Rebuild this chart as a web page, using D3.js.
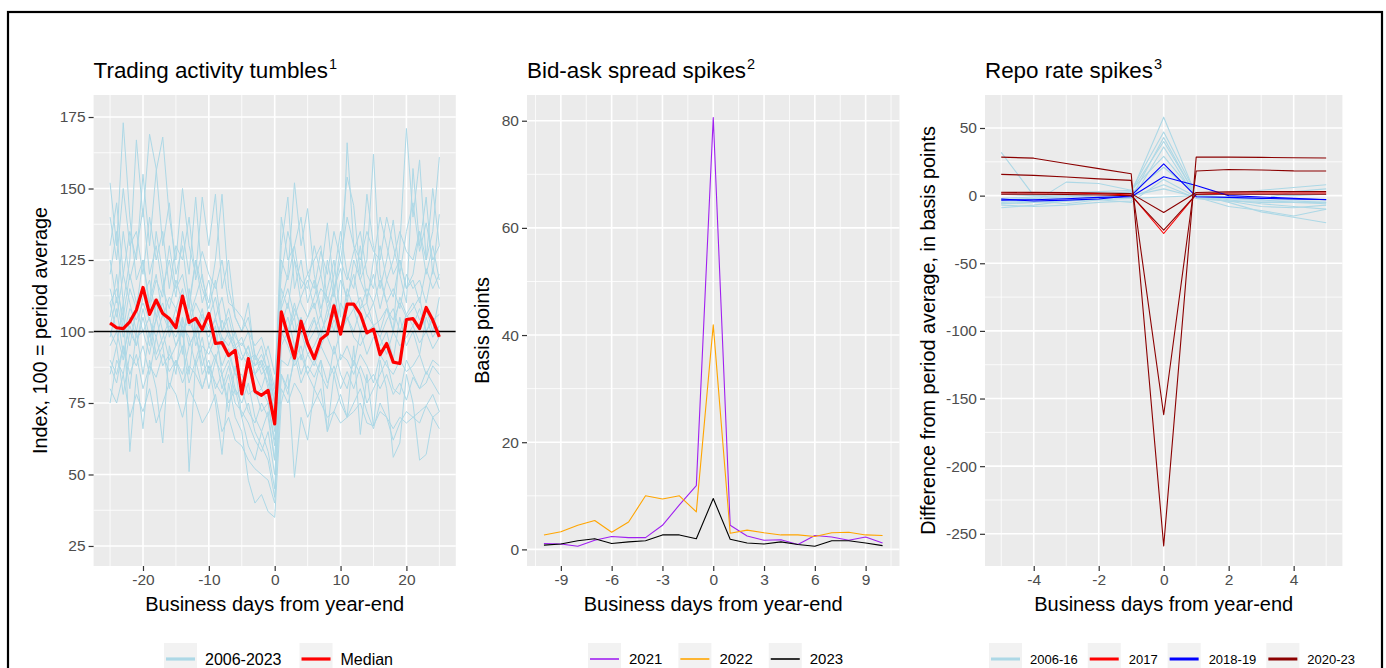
<!DOCTYPE html>
<html>
<head>
<meta charset="utf-8">
<script src="https://cdn.jsdelivr.net/npm/d3@7"></script>
<style>
body { margin: 0; background: #fff; }
svg { display: block; font-family: "Liberation Sans", Arial, sans-serif; }
</style>
</head>
<body>
<svg id="chart" width="1386" height="668"></svg>
<script>
// ---- panel 1: trading activity, index (100 = period average), days -25..25
var activityDays = d3.range(-25, 26);
var activityMedian = [
  103.0, 101.3, 101.0, 103.4, 107.5, 115.4, 106.0, 111.0, 106.3, 104.5,
  101.3, 112.4, 103.2, 104.6, 100.7, 106.3, 95.8, 96.1, 91.6, 93.4,
  78.2, 90.5, 79.1, 77.7, 79.4, 67.7,
  106.9, 98.7, 90.7, 103.6, 95.8, 90.5, 97.3, 99.1, 109.0, 99.1,
  109.6, 109.6, 106.1, 99.5, 100.8, 91.9, 95.8, 89.3, 88.8, 104.2,
  104.5, 101.0, 108.4, 104.0, 98.1
];
// one row per year 2006-2023 (read off roughly from the spaghetti)
var activityYears = [
  [152,130,173,140,118, 125,110,135,120,98, 105,92,115,100,88, 95,102,85,90,80, 75,82,70,65,72, 55, 110,120,152,130,143, 120,108,115,125,105, 166,130,118,125,162, 120,110,100,130,171, 140,160,125,135,161],
  [120,135,110,125,167, 140,169,157,130,145, 120,130,110,125,115, 108,118,100,105,95, 90,95,85,80,88, 78, 130,147,115,125,110, 118,105,125,112,130, 154,144,120,148,130, 115,125,139,120,110, 157,130,147,120,141],
  [100,95,110,58,85, 66,90,80,61,95, 85,105,51,90,80, 88,75,57,82,70, 65,48,40,43,37, 35, 75,85,49,70,62, 80,90,65,85,75, 70,95,64,85,67, 90,80,56,61,85, 75,55,57,70,66],
  [75,90,85,100,95, 105,95,110,100,90, 95,100,85,105,92, 80,90,85,72,88, 70,60,55,65,58, 45, 95,100,105,90,100, 105,95,100,110,90, 95,88,100,92,98, 95,100,90,105,95, 100,92,105,98,102],
  [130,145,120,135,125, 155,130,156,168,140, 125,150,130,120,147, 130,148,115,125,105, 100,110,90,95,85, 70, 140,125,130,115,120, 125,130,110,120,135, 120,115,130,110,125, 140,130,120,125,115, 120,135,125,150,130],
  [90,85,95,80,100, 85,100,90,95,80, 90,85,95,100,85, 90,80,85,75,80, 70,75,65,60,55, 42, 85,80,90,95,85, 90,85,80,95,85, 80,90,85,75,80, 85,90,80,78,90, 85,80,82,88,85],
  [110,115,105,120,110, 115,110,120,105,112, 108,115,102,110,105, 100,104,98,95,100, 92,88,85,90,80, 65, 105,100,110,100,105, 110,100,105,115,100, 115,108,112,105,110, 100,108,104,110,105, 108,112,100,104,106],
  [95,100,90,105,98, 100,92,105,95,102, 98,105,95,100,108, 95,90,98,92,85, 85,78,80,72,75, 60, 98,105,95,100,92, 95,100,98,92,100, 105,98,95,100,102, 98,92,100,95,98, 102,96,100,94,98],
  [80,75,85,70,78, 72,80,68,75,82, 78,70,80,75,68, 72,78,65,70,62, 60,55,52,50,48, 40, 80,75,82,78,70, 75,80,65,72,78, 70,75,80,72,66, 75,70,62,68,72, 70,68,74,78,72],
  [140,125,150,130,135, 120,140,125,135,115, 130,125,140,118,128, 120,115,125,110,108, 105,100,95,98,90, 80, 125,118,130,140,120, 115,128,120,135,125, 140,130,125,135,128, 125,140,130,120,135, 145,128,138,125,130],
  [105,120,100,115,108, 125,108,118,112,130, 115,120,108,125,110, 118,105,112,100,95, 98,90,92,85,88, 75, 115,108,125,110,105, 112,120,108,115,122, 110,125,118,112,120, 108,118,112,125,115, 118,110,122,115,120],
  [85,95,78,92,88, 95,85,98,88,92, 88,95,82,90,98, 85,92,80,88,78, 80,72,68,75,70, 55, 90,88,95,85,92, 88,95,90,85,92, 90,85,92,88,82, 92,88,85,90,86, 88,92,85,90,88],
  [125,110,135,118,128, 143,120,130,115,125, 112,135,120,147,118, 110,125,148,115,105, 100,105,92,88,95, 85, 120,135,125,118,115, 130,120,138,115,125, 118,128,135,120,115, 130,118,125,135,128, 125,135,120,130,118],
  [98,108,92,102,95, 108,98,104,110,100, 104,98,110,95,102, 98,105,95,100,92, 90,95,85,88,82, 72, 102,110,100,105,98, 104,98,108,100,110, 105,100,108,110,102, 104,108,100,112,106, 110,104,108,100,112],
  [110,100,105,95,108, 100,105,92,98,104, 95,102,98,88,95, 92,98,88,94,85, 82,88,78,80,75, 62, 100,95,88,92,85, 80,75,70,72,68, 70,72,75,68,67, 72,70,66,70,68, 70,72,74,70,72],
  [115,105,120,110,100, 112,118,105,115,108, 118,110,105,112,120, 105,112,100,108,98, 95,100,88,92,86, 68, 108,115,105,112,118, 108,115,112,105,118, 112,120,108,115,110, 118,110,115,108,120, 115,118,110,122,115],
  [88,82,95,85,92, 80,88,84,92,86, 90,82,88,85,80, 88,82,78,85,75, 72,68,62,58,65, 50, 85,78,92,82,88, 84,90,82,88,80, 86,80,88,82,85, 80,85,78,82,76, 84,80,86,82,78],
  [102,112,98,108,104, 110,104,98,106,100, 108,100,104,98,106, 102,96,104,98,94, 96,92,88,90,85, 75, 104,98,108,102,96, 100,106,98,104,100, 104,108,100,106,102, 98,104,108,100,106, 102,108,100,105,100]
];
var activityRef = 100;

// ---- panel 2: bid-ask spread, basis points, days -10..10
var spreadDays = d3.range(-10, 11);
var spread2021 = [1.1, 1.0, 0.6, 1.7, 2.4, 2.2, 2.2, 4.5, 8.3, 11.9, 80.6, 4.5, 2.5, 1.7, 1.8, 0.9, 2.6, 2.3, 1.7, 2.3, 1.2];
var spread2022 = [2.7, 3.3, 4.5, 5.4, 3.2, 5.1, 10.0, 9.4, 10.0, 7.0, 41.9, 3.0, 3.6, 3.1, 2.7, 2.7, 2.4, 3.1, 3.2, 2.7, 2.6];
var spread2023 = [0.8, 1.0, 1.6, 2.0, 1.1, 1.4, 1.6, 2.7, 2.7, 2.0, 9.5, 1.9, 1.2, 1.0, 1.4, 0.9, 0.6, 1.6, 1.6, 1.2, 0.7];

// ---- panel 3: repo rate, difference from period average, days -5..5
var repoDays = d3.range(-5, 6);
var repo2006to16 = [
  [32, 0, 1, 2, 2, 58, 0, -3, -6, -8, -10],
  [-6, -5, 10, 9, 4, 47, 1, -5, -12, -16, -20],
  [-5, -4, -6, -3, -2, 43, -1, -4, -8, -9, -7],
  [-3, -2, -1, 1, 3, 40, 0, -2, -3, -5, -6],
  [-7, -8, -7, -5, -4, 36, -2, -4, -4, -4, -5],
  [1, 0, 2, 3, 4, 29, 0, -1, -2, -3, -3],
  [-2, -1, 0, 1, 2, 21, 1, 2, 4, 6, 8],
  [-9, -7, -4, -3, -5, 12, -1, -8, -11, -15, -10],
  [-6, -5, -4, -2, -1, 8, -2, -4, -5, -5, -5],
  [-4, -3, -2, -1, 0, 5, -1, -2, -3, 3, 5],
  [2, 1, 0, -1, -2, -1, 0, 1, 1, 0, 1]
];
var repo2017 = [
  [2, 2, 2, 1.5, 0.5, -28, 1, 2, 2, 2, 2]
];
var repo2018to19 = [
  [-2.5, -4, -3.3, -2.5, 0, 23.5, -0.8, -1.3, -2, -2.5, -2.8],
  [-3.3, -3, -2.3, -1.3, -0.8, 14, 7.5, 0, -1, -2, -3]
];
var repo2020to23 = [
  [28.5, 27.7, 23.8, 20, 16.2, -259, 28.5, 28.5, 28.3, 28, 27.8],
  [15.7, 15, 13.8, 12.4, 11.3, -162, 18.2, 19.3, 19, 18.3, 18.2],
  [2.5, 2.4, 2.2, 2, 1.5, -12.5, 2.3, 2.8, 3, 3, 3],
  [1, 1, 0.8, 0.5, 0, -25.5, 1, 1, 1, 1, 1]
];

// ---- axis ticks
var ticksX1 = [-20, -10, 0, 10, 20];
var ticksY1 = [25, 50, 75, 100, 125, 150, 175];
var ticksX2 = [-9, -6, -3, 0, 3, 6, 9];
var ticksY2 = [0, 20, 40, 60, 80];
var ticksX3 = [-4, -2, 0, 2, 4];
var ticksY3 = [-250, -200, -150, -100, -50, 0, 50];

var TOP = 95, BOTTOM = 566;
var svg = d3.select("#chart");

svg.append("rect")
  .attr("x", 8).attr("y", 12)
  .attr("width", 1374).attr("height", 720)
  .attr("fill", "none").attr("stroke", "#000").attr("stroke-width", 2.2);

// minor breaks half way between the majors (ggplot style)
function minorBreaks(major, domain){
  var step = major[1] - major[0];
  var out = [];
  for(var i = -1; i < major.length; i++){
    var v = major[0] + (i + 0.5) * step;
    if(v >= domain[0] && v <= domain[1]) out.push(v);
  }
  return out;
}

function drawPanel(cfg){
  var x = d3.scaleLinear().domain(cfg.xDomain).range([cfg.left, cfg.right]);
  var y = d3.scaleLinear().domain(cfg.yDomain).range([BOTTOM, TOP]);
  var g = svg.append("g");

  g.append("rect")
    .attr("x", cfg.left).attr("y", TOP)
    .attr("width", cfg.right - cfg.left).attr("height", BOTTOM - TOP)
    .attr("fill", "#EBEBEB");

  //grid
  g.selectAll(".minx").data(minorBreaks(cfg.xTicks, cfg.xDomain)).enter().append("line")
    .attr("x1", function(d){return x(d);}).attr("x2", function(d){return x(d);})
    .attr("y1", TOP).attr("y2", BOTTOM)
    .attr("stroke", "#fff").attr("stroke-width", 0.8);
  g.selectAll(".miny").data(minorBreaks(cfg.yTicks, cfg.yDomain)).enter().append("line")
    .attr("y1", function(d){return y(d);}).attr("y2", function(d){return y(d);})
    .attr("x1", cfg.left).attr("x2", cfg.right)
    .attr("stroke", "#fff").attr("stroke-width", 0.8);
  g.selectAll(".majx").data(cfg.xTicks).enter().append("line")
    .attr("x1", function(d){return x(d);}).attr("x2", function(d){return x(d);})
    .attr("y1", TOP).attr("y2", BOTTOM)
    .attr("stroke", "#fff").attr("stroke-width", 1.6);
  g.selectAll(".majy").data(cfg.yTicks).enter().append("line")
    .attr("y1", function(d){return y(d);}).attr("y2", function(d){return y(d);})
    .attr("x1", cfg.left).attr("x2", cfg.right)
    .attr("stroke", "#fff").attr("stroke-width", 1.6);

  //axes
  var ax = g.append("g").attr("transform", "translate(0," + BOTTOM + ")")
    .call(d3.axisBottom(x).tickValues(cfg.xTicks).tickSize(5).tickPadding(3)
      .tickFormat(function(d){return String(d);}));
  var ay = g.append("g").attr("transform", "translate(" + cfg.left + ",0)")
    .call(d3.axisLeft(y).tickValues(cfg.yTicks).tickSize(5).tickPadding(3)
      .tickFormat(function(d){return String(d);}));
  [ax, ay].forEach(function(a){
    a.select(".domain").remove();
    a.selectAll(".tick line").attr("stroke", "#333").attr("stroke-width", 1.2);
    a.selectAll(".tick text").attr("fill", "#4d4d4d")
      .style("font-size", "15.5px").style("font-family", "Liberation Sans, Arial, sans-serif");
  });

  //titles
  var t = g.append("text").attr("x", cfg.left).attr("y", 78)
    .style("font-size", "22.4px").attr("fill", "#000").text(cfg.title);
  t.append("tspan").attr("dy", -9).attr("dx", 1).style("font-size", "14.5px").text(cfg.sup);

  g.append("text")
    .attr("x", (cfg.left + cfg.right) / 2).attr("y", 611)
    .attr("text-anchor", "middle").style("font-size", "20px")
    .text("Business days from year-end");
  g.append("text")
    .attr("transform", "translate(" + cfg.yTitleX + "," + ((TOP + BOTTOM) / 2) + ") rotate(-90)")
    .attr("text-anchor", "middle").attr("dy", "0.35em").style("font-size", "19.8px")
    .text(cfg.yTitle);

  var clip = "clip" + cfg.id;
  g.append("clipPath").attr("id", clip).append("rect")
    .attr("x", cfg.left).attr("y", TOP)
    .attr("width", cfg.right - cfg.left).attr("height", BOTTOM - TOP);
  var body = g.append("g").attr("clip-path", "url(#" + clip + ")");

  cfg.layers.forEach(function(layer){
    if(layer.hline !== undefined){
      body.append("line")
        .attr("x1", cfg.left).attr("x2", cfg.right)
        .attr("y1", y(layer.hline)).attr("y2", y(layer.hline))
        .attr("stroke", layer.color).attr("stroke-width", layer.width);
      return;
    }
    var line = d3.line()
      .x(function(d, i){return x(layer.days[i]);})
      .y(function(d){return y(d);});
    body.selectAll(null).data(layer.series).enter().append("path")
      .attr("d", line)
      .attr("fill", "none")
      .attr("stroke", layer.color)
      .attr("stroke-width", layer.width)
      .attr("stroke-linejoin", "round");
  });

  //legend
  var lx = cfg.legendX;
  cfg.legend.forEach(function(item){
    var lg = g.append("g");
    lg.append("rect").attr("x", lx).attr("y", 643).attr("width", 33).attr("height", 32)
      .attr("fill", "#F2F2F2");
    lg.append("line").attr("x1", lx + 2).attr("x2", lx + 31).attr("y1", 659).attr("y2", 659)
      .attr("stroke", item.color).attr("stroke-width", cfg.legendLine);
    var txt = lg.append("text").attr("x", lx + cfg.legendPad).attr("y", 659).attr("dy", "0.35em")
      .style("font-size", cfg.legendFont + "px").text(item.label);
    lx = lx + cfg.legendPad + txt.node().getComputedTextLength() + cfg.legendGap;
  });
}

drawPanel({
  id: 1, left: 93.6, right: 455.8,
  xDomain: [-27.5, 27.5], yDomain: [18.0, 182.7],
  xTicks: ticksX1, yTicks: ticksY1,
  title: "Trading activity tumbles", sup: "1",
  yTitle: "Index, 100 = period average", yTitleX: 40,
  layers: [
    {days: activityDays, series: activityYears, color: "#ADD8E6", width: 1},
    {hline: activityRef, color: "#000", width: 1.7},
    {days: activityDays, series: [activityMedian], color: "#FF0000", width: 3.2}
  ],
  legendX: 164, legendFont: 16, legendLine: 3.2, legendGap: 18, legendPad: 41,
  legend: [{label: "2006-2023", color: "#ADD8E6"}, {label: "Median", color: "#FF0000"}]
});

drawPanel({
  id: 2, left: 527, right: 899.5,
  xDomain: [-11, 11], yDomain: [-3.1, 84.8],
  xTicks: ticksX2, yTicks: ticksY2,
  title: "Bid-ask spread spikes", sup: "2",
  yTitle: "Basis points", yTitleX: 482,
  layers: [
    {days: spreadDays, series: [spread2021], color: "#A020F0", width: 1.1},
    {days: spreadDays, series: [spread2022], color: "#FFA500", width: 1.1},
    {days: spreadDays, series: [spread2023], color: "#000000", width: 1.1}
  ],
  legendX: 588, legendFont: 15, legendLine: 1.6, legendGap: 16, legendPad: 41,
  legend: [{label: "2021", color: "#A020F0"}, {label: "2022", color: "#FFA500"}, {label: "2023", color: "#000000"}]
});

drawPanel({
  id: 3, left: 985, right: 1342.4,
  xDomain: [-5.5, 5.5], yDomain: [-273.8, 74.4],
  xTicks: ticksX3, yTicks: ticksY3,
  title: "Repo rate spikes", sup: "3",
  yTitle: "Difference from period average, in basis points", yTitleX: 928,
  layers: [
    {days: repoDays, series: repo2006to16, color: "#ADD8E6", width: 1.1},
    {days: repoDays, series: repo2017, color: "#FF0000", width: 1.1},
    {days: repoDays, series: repo2018to19, color: "#0000FF", width: 1.1},
    {days: repoDays, series: repo2020to23, color: "#8B0000", width: 1.1}
  ],
  legendX: 989, legendFont: 13, legendLine: 3, legendGap: 10, legendPad: 41,
  legend: [{label: "2006-16", color: "#ADD8E6"}, {label: "2017", color: "#FF0000"},
           {label: "2018-19", color: "#0000FF"}, {label: "2020-23", color: "#8B0000"}]
});
</script>
</body>
</html>
